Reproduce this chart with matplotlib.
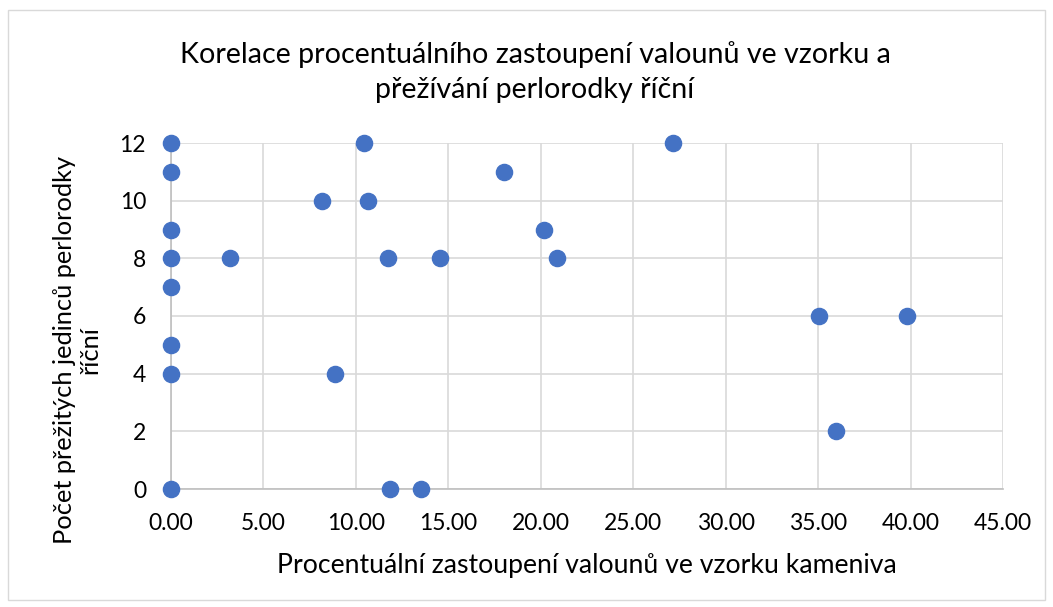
import matplotlib
matplotlib.use("Agg")
import matplotlib.pyplot as plt
from matplotlib.patches import Rectangle

x_vals = [0, 0, 0, 0, 0, 0, 0, 0, 3.2, 8.17, 8.87, 10.44, 10.65, 11.74, 11.84,
          13.52, 14.55, 18.0, 20.17, 20.88, 27.15, 35.05, 35.96, 39.8]
y_vals = [12, 11, 9, 8, 7, 5, 4, 0, 8, 10, 4, 12, 10, 8, 0,
          0, 8, 11, 9, 8, 12, 6, 2, 6]
x_ticks = [0, 5, 10, 15, 20, 25, 30, 35, 40, 45]
y_ticks = [0, 2, 4, 6, 8, 10, 12]

title = "Korelace procentuálního zastoupení valounů ve vzorku a\npřežívání perlorodky říční"
x_label = "Procentuální zastoupení valounů ve vzorku kameniva"
y_label = "Počet přežitých jedinců perlorodky\nříční"

plt.rcParams['font.family'] = ['Lato', 'DejaVu Sans']

W, H = 1053, 607
fig = plt.figure(figsize=(W / 100, H / 100), dpi=100)
fig.patches.append(Rectangle((8 / W, 1 - 600 / H), (1045 - 8) / W, (600 - 10) / H,
                             transform=fig.transFigure, fill=False,
                             edgecolor='#d9d9d9', linewidth=1))

ax = fig.add_axes([171 / W, 1 - 489 / H, (1003 - 171) / W, (489 - 143) / H])
ax.scatter(x_vals, y_vals, s=135, color='#4472C4', zorder=3, clip_on=False)
ax.set_xlim(0, 45)
ax.set_ylim(0, 12)
ax.set_xticks(x_ticks)
ax.set_xticklabels([f"{v:.2f}" for v in x_ticks])
ax.set_yticks(y_ticks)
ax.grid(True, color='#d9d9d9', linewidth=1.2)
ax.set_axisbelow(True)
for s in ['top', 'right']:
    ax.spines[s].set_visible(False)
for s in ['left', 'bottom']:
    ax.spines[s].set_color('#bfbfbf')
    ax.spines[s].set_linewidth(1.2)
ax.tick_params(length=0, labelsize=16.5, colors='black')
ax.tick_params(axis='x', pad=17)
ax.tick_params(axis='y', pad=18)

fig.text(587 / W, 1 - 565 / H, x_label, ha='center', va='center', fontsize=19.2)
fig.text(77 / W, 1 - 350 / H, y_label, ha='center', va='center', fontsize=18.3,
         rotation=90, linespacing=1.15)
fig.text(535 / W, 1 - 72 / H, title, ha='center', va='center', fontsize=20.6,
         linespacing=1.4)

fig.savefig("out.png", dpi=100)
